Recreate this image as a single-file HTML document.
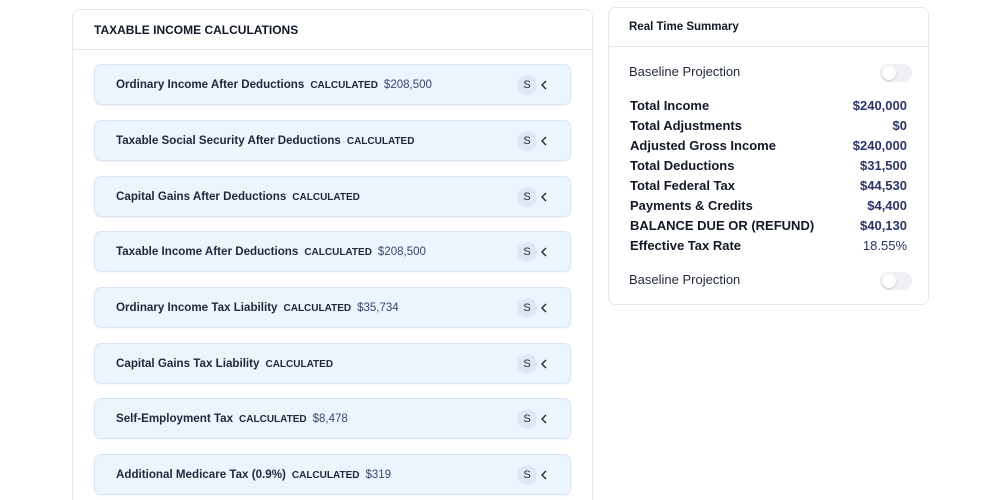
<!DOCTYPE html>
<html><head><style>
*{box-sizing:border-box;margin:0;padding:0}
html,body{width:1000px;height:500px;overflow:hidden}
body{background:#fff;font-family:"Liberation Sans",sans-serif;color:#111827;position:relative}
.card{position:absolute;background:#fff;border:1px solid #e5e7ef;border-radius:8px}
.l{left:72px;top:9px;width:521px;height:500px}
.r{left:608px;top:7px;width:321px;height:298px}
.hd{position:absolute;left:0;right:0;top:0;border-bottom:1px solid #e5e7ef}
.item{position:absolute;left:21px;width:477px;height:41px;background:#eaf5fe;border:1px solid #d6e6f5;border-radius:7px;box-shadow:0 1px 2px rgba(0,0,0,.05)}
.item .t{position:absolute;left:21px;top:13px;font-size:11.6px;font-weight:bold;color:#1f2937;white-space:nowrap}
.tag{font-size:10px;font-weight:bold;margin-left:6px;color:#1f2937}
.val{font-size:11.5px;font-weight:normal;color:#3a4670;margin-left:6px}
.s{position:absolute;left:422px;top:10px;width:20px;height:20px;border-radius:50%;background:#dde8f4;font-size:11px;text-align:center;line-height:20px;color:#1f2937}
.c{position:absolute;left:445px;top:15px;width:8px;height:10px}
.row{position:absolute;left:21px;width:277px;font-size:13px;font-weight:bold;color:#111827}
.row span{position:absolute;right:0;color:#2b3566}
.bp{position:absolute;left:20px;font-size:13px;color:#1f2937}
.tg{position:absolute;left:271px;width:32px;height:18px;border-radius:9px;background:#eef0f3}
.tg:after{content:"";position:absolute;left:2px;top:2px;width:14px;height:14px;border-radius:50%;background:#fff;box-shadow:0 1px 2px rgba(0,0,0,.2)}
</style></head><body>
<div class="card l">
<div class="hd" style="height:40px"><div style="position:absolute;left:21px;top:13px;font-size:12px;font-weight:bold;color:#111827">TAXABLE INCOME CALCULATIONS</div></div>
<div class="item" style="top:54px"><div class="t">Ordinary Income After Deductions<span class="tag">CALCULATED</span><span class="val">$208,500</span></div><div class="s">S</div><svg class="c" viewBox="0 0 8 10"><path d="M6 1L2 5l4 4" fill="none" stroke="#1f2937" stroke-width="1.4"/></svg></div>
<div class="item" style="top:110px"><div class="t">Taxable Social Security After Deductions<span class="tag">CALCULATED</span></div><div class="s">S</div><svg class="c" viewBox="0 0 8 10"><path d="M6 1L2 5l4 4" fill="none" stroke="#1f2937" stroke-width="1.4"/></svg></div>
<div class="item" style="top:166px"><div class="t">Capital Gains After Deductions<span class="tag">CALCULATED</span></div><div class="s">S</div><svg class="c" viewBox="0 0 8 10"><path d="M6 1L2 5l4 4" fill="none" stroke="#1f2937" stroke-width="1.4"/></svg></div>
<div class="item" style="top:221px"><div class="t">Taxable Income After Deductions<span class="tag">CALCULATED</span><span class="val">$208,500</span></div><div class="s">S</div><svg class="c" viewBox="0 0 8 10"><path d="M6 1L2 5l4 4" fill="none" stroke="#1f2937" stroke-width="1.4"/></svg></div>
<div class="item" style="top:277px"><div class="t">Ordinary Income Tax Liability<span class="tag">CALCULATED</span><span class="val">$35,734</span></div><div class="s">S</div><svg class="c" viewBox="0 0 8 10"><path d="M6 1L2 5l4 4" fill="none" stroke="#1f2937" stroke-width="1.4"/></svg></div>
<div class="item" style="top:333px"><div class="t">Capital Gains Tax Liability<span class="tag">CALCULATED</span></div><div class="s">S</div><svg class="c" viewBox="0 0 8 10"><path d="M6 1L2 5l4 4" fill="none" stroke="#1f2937" stroke-width="1.4"/></svg></div>
<div class="item" style="top:388px"><div class="t">Self-Employment Tax<span class="tag">CALCULATED</span><span class="val">$8,478</span></div><div class="s">S</div><svg class="c" viewBox="0 0 8 10"><path d="M6 1L2 5l4 4" fill="none" stroke="#1f2937" stroke-width="1.4"/></svg></div>
<div class="item" style="top:444px"><div class="t">Additional Medicare Tax (0.9%)<span class="tag">CALCULATED</span><span class="val">$319</span></div><div class="s">S</div><svg class="c" viewBox="0 0 8 10"><path d="M6 1L2 5l4 4" fill="none" stroke="#1f2937" stroke-width="1.4"/></svg></div>
</div>
<div class="card r">
<div class="hd" style="height:39px"><div style="position:absolute;left:20px;top:13px;font-size:11.5px;font-weight:bold;color:#111827">Real Time Summary</div></div>
<div class="bp" style="top:56px">Baseline Projection</div><div class="tg" style="top:56px"></div>
<div class="row" style="top:90px">Total Income<span>$240,000</span></div>
<div class="row" style="top:110px">Total Adjustments<span>$0</span></div>
<div class="row" style="top:130px">Adjusted Gross Income<span>$240,000</span></div>
<div class="row" style="top:150px">Total Deductions<span>$31,500</span></div>
<div class="row" style="top:170px">Total Federal Tax<span>$44,530</span></div>
<div class="row" style="top:190px">Payments &amp; Credits<span>$4,400</span></div>
<div class="row" style="top:210px">BALANCE DUE OR (REFUND)<span>$40,130</span></div>
<div class="row" style="top:230px">Effective Tax Rate<span style="font-weight:normal">18.55%</span></div>
<div class="bp" style="top:264px">Baseline Projection</div><div class="tg" style="top:264px"></div>
</div>
</body></html>
